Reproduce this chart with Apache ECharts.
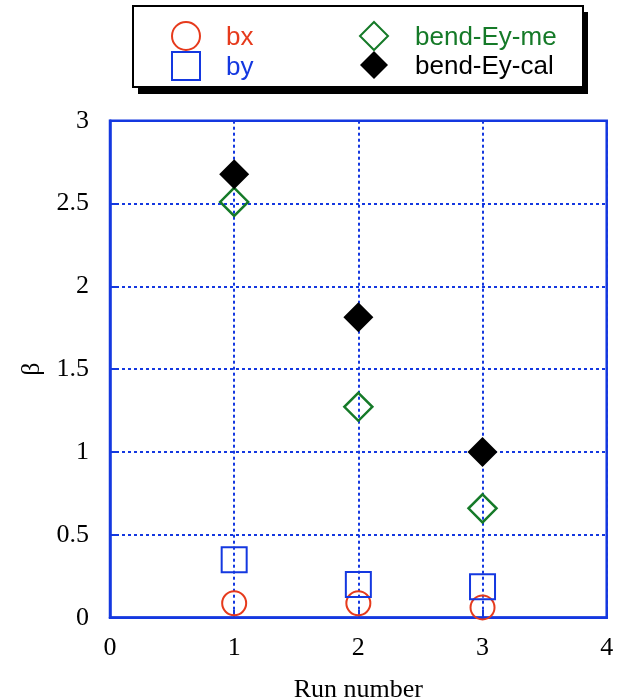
<!DOCTYPE html>
<html>
<head>
<meta charset="utf-8">
<script src="https://cdn.jsdelivr.net/npm/echarts@6/dist/echarts.min.js"></script>
<style>
  html, body { margin: 0; padding: 0; background: #fff; }
  #chart { width: 626px; height: 699px; }
</style>
</head>
<body>
<div id="chart"></div>
<script>
// Run numbers and the beta values measured for each run
const runs = [1, 2, 3];
const bx = [0.087, 0.087, 0.062];
const by = [0.35, 0.20, 0.187];
const bendEyMe = [2.51, 1.273, 0.66];
const bendEyCal = [2.677, 1.813, 1.0];

const xTicks = { min: 0, max: 4, interval: 1 };
const yTicks = { min: 0, max: 3, interval: 0.5 };

const BLUE = '#1438e0';
const RED = '#e63a1c';
const GREEN = '#157a28';
const BLACK = '#000000';

const pairs = vals => runs.map((r, i) => [r, vals[i]]);

const serif = '"Liberation Serif", "Times New Roman", serif';
const sans = '"Liberation Sans", Arial, sans-serif';

// legend labels: each one coloured like its series, pushed right of the icon
const legendColor = { 'bx': RED, 'by': BLUE, 'bend-Ey-me': GREEN, 'bend-Ey-cal': BLACK };
const legendKey = { 'bx': 'r', 'by': 'b', 'bend-Ey-me': 'g', 'bend-Ey-cal': 'k' };
function legendRich(pad) {
  const rich = {};
  Object.keys(legendKey).forEach(n => {
    rich[legendKey[n]] = { color: legendColor[n], fontFamily: sans, fontSize: 26, padding: [3, 0, 0, pad] };
  });
  return rich;
}
const legendFormatter = name => '{' + legendKey[name] + '|' + name + '}';

const chart = echarts.init(document.getElementById('chart'), null, { renderer: 'canvas' });

const gridLine = { show: true, lineStyle: { color: BLUE, width: 2, type: [3, 3] } };

chart.setOption({
  animation: false,
  backgroundColor: '#fff',
  grid: {
    left: 110, top: 120.7, right: 19.3, bottom: 81.3,
    containLabel: false, outerBoundsMode: 'none',
    show: true, borderColor: BLUE, borderWidth: 2.5, backgroundColor: 'transparent'
  },
  graphic: [{
    type: 'rect',
    shape: { x: 138, y: 12, width: 450, height: 82 },
    style: { fill: '#000' },
    z: 0
  }, {
    type: 'rect',
    shape: { x: 133, y: 6, width: 450, height: 81 },
    style: { fill: '#fff', stroke: '#000', lineWidth: 2 },
    z: 1
  }],
  legend: [{
    left: 166, top: 16, orient: 'vertical',
    itemWidth: 28, itemHeight: 28, itemGap: 0,
    formatter: legendFormatter,
    textStyle: { fontFamily: sans, fontSize: 26, rich: legendRich(21) },
    data: ['bx', 'by'],
    z: 10
  }, {
    left: 354, top: 16, orient: 'vertical',
    itemWidth: 28, itemHeight: 28, itemGap: 0,
    formatter: legendFormatter,
    textStyle: { fontFamily: sans, fontSize: 26, rich: legendRich(22) },
    data: ['bend-Ey-me', 'bend-Ey-cal'],
    z: 10
  }],
  xAxis: {
    type: 'value', min: xTicks.min, max: xTicks.max, interval: xTicks.interval,
    name: 'Run number', nameLocation: 'middle', nameGap: 59,
    nameTextStyle: { fontFamily: serif, fontSize: 26, color: '#000' },
    axisLine: { show: true, lineStyle: { color: BLUE, width: 2.5 } },
    axisTick: { show: true, inside: true, length: 8, lineStyle: { color: BLUE, width: 2 } },
    axisLabel: { fontFamily: serif, fontSize: 26, color: '#000', margin: 17 },
    splitLine: gridLine
  },
  yAxis: {
    type: 'value', min: yTicks.min, max: yTicks.max, interval: yTicks.interval,
    name: 'β', nameLocation: 'middle', nameGap: 65, nameRotate: 90,
    nameTextStyle: { fontFamily: serif, fontSize: 26, color: '#000' },
    axisLine: { show: true, lineStyle: { color: BLUE, width: 2.5 } },
    axisTick: { show: true, inside: true, length: 8, lineStyle: { color: BLUE, width: 2 } },
    axisLabel: { fontFamily: serif, fontSize: 26, color: '#000', margin: 21 },
    splitLine: gridLine
  },
  series: [{
    name: 'bx', type: 'scatter', data: pairs(bx),
    symbol: 'circle', symbolSize: 24,
    itemStyle: { color: 'rgba(255,255,255,0)', borderColor: RED, borderWidth: 2, opacity: 1 }
  }, {
    name: 'by', type: 'scatter', data: pairs(by),
    symbol: 'rect', symbolSize: 25,
    itemStyle: { color: 'rgba(255,255,255,0)', borderColor: BLUE, borderWidth: 2, opacity: 1 }
  }, {
    name: 'bend-Ey-me', type: 'scatter', data: pairs(bendEyMe),
    symbol: 'diamond', symbolSize: 28,
    itemStyle: { color: 'rgba(255,255,255,0)', borderColor: GREEN, borderWidth: 2.5, opacity: 1 }
  }, {
    name: 'bend-Ey-cal', type: 'scatter', data: pairs(bendEyCal),
    symbol: 'diamond', symbolSize: 30,
    itemStyle: { color: BLACK, borderColor: BLACK, borderWidth: 0, opacity: 1 }
  }]
});
</script>
</body>
</html>
